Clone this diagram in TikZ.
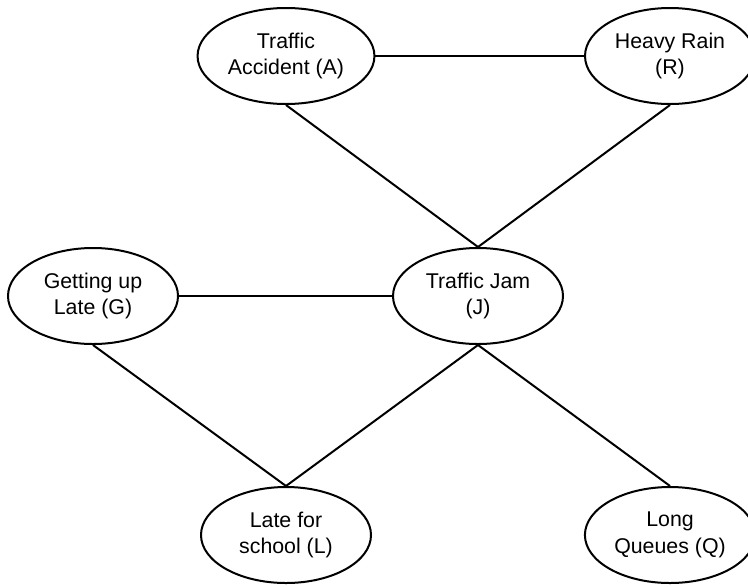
\documentclass[tikz,border=0pt]{standalone}
\usepackage{fontspec}
\setmainfont{Liberation Sans}
\usetikzlibrary{shapes.geometric}
\begin{document}
\begin{tikzpicture} [x=0.75pt, y=-0.75pt, line width = 1.5pt, ellipse, align=center, font=\fontsize{16}{20}\selectfont, minimum width=127.5pt, minimum height=72pt]
\useasboundingbox (0,0) rectangle (748,586);

\node at (286,56) [draw, ellipse] (acc) {Traffic\\Accident (A)};
\node at (670,56) [draw, ellipse] (rain) {Heavy Rain\\(R)};
\node at (93,296) [draw, ellipse] (getup) {Getting up\\Late (G)};
\node at (478,296) [draw, ellipse] (jam) {Traffic Jam\\(J)};
\node at (286,535) [draw, ellipse] (late) {Late for\\school (L)};
\node at (670,535) [draw, ellipse] (queue) {Long\\Queues (Q)};

\path (acc) edge (rain);
\path (getup) edge (jam);

\path (acc.south) edge (jam.north);
\path (rain.south) edge (jam.north);
\path (getup.south) edge (late.north);
\path (jam.south) edge (late.north);
\path (jam.south) edge (queue.north);

\end{tikzpicture}
\end{document}
